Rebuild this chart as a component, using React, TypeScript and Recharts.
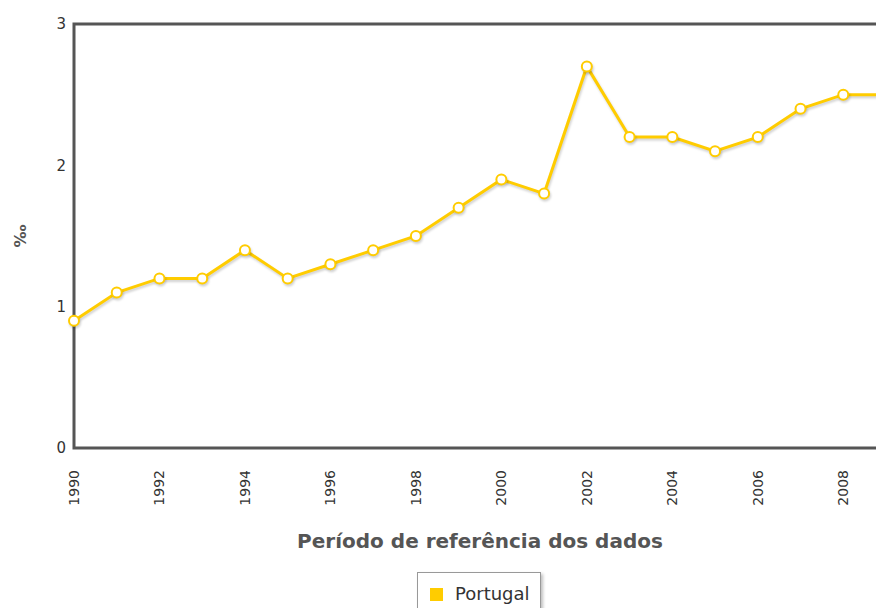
import React from "react";
import {
  LineChart,
  Line,
  XAxis,
  YAxis,
  Legend,
  ReferenceArea,
  Label,
} from "recharts";

const years = [
  "1990", "1991", "1992", "1993", "1994", "1995", "1996", "1997", "1998", "1999",
  "2000", "2001", "2002", "2003", "2004", "2005", "2006", "2007", "2008", "2009",
];
const portugal = [
  0.9, 1.1, 1.2, 1.2, 1.4, 1.2, 1.3, 1.4, 1.5, 1.7,
  1.9, 1.8, 2.7, 2.2, 2.2, 2.1, 2.2, 2.4, 2.5, 2.5,
];
const yTicks = [0, 1, 2, 3];

const data = years.map((year, i) => ({ year, Portugal: portugal[i] }));

const FONT = "'DejaVu Sans', Verdana, sans-serif";

function YearTick(props: any) {
  const { x, y, payload } = props;
  return (
    <text
      transform={`translate(${x + 5},${y + 14}) rotate(-90)`}
      textAnchor="end"
      fontSize={14}
      fontFamily={FONT}
      fill="#333"
    >
      {payload.value}
    </text>
  );
}

function LegendBox() {
  return (
    <div
      style={{
        border: "1px solid #999",
        boxShadow: "2px 2px 3px rgba(0,0,0,0.25)",
        background: "#fff",
        padding: "11px 10px 14px 12px",
        display: "flex",
        alignItems: "center",
        fontFamily: FONT,
        fontSize: 18,
        lineHeight: "20px",
        color: "#333",
      }}
    >
      <span
        style={{
          display: "inline-block",
          width: 13,
          height: 13,
          background: "#FFCC00",
          marginRight: 12,
        }}
      />
      Portugal
    </div>
  );
}

export default function App() {
  return (
    <div
      style={{
        position: "fixed",
        left: 0,
        top: 0,
        width: 876,
        height: 608,
        overflow: "hidden",
        background: "#fff",
      }}
    >
      <LineChart
        width={960}
        height={608}
        data={data}
        margin={{ top: 24, right: 74, bottom: 50, left: 0 }}
      >
        <ReferenceArea
          x1="1990"
          x2="2009"
          y1={0}
          y2={3}
          fill="none"
          stroke="#555"
          strokeWidth={3}
        />
        <XAxis
          dataKey="year"
          interval={1}
          height={110}
          axisLine={false}
          tickLine={false}
          padding={{ left: 0, right: 0 }}
          tick={<YearTick />}
        >
          <Label
            value="Período de referência dos dados"
            position="insideBottom"
            offset={10}
            style={{
              fontSize: 20,
              fontWeight: "bold",
              fontFamily: FONT,
              fill: "#555",
            }}
          />
        </XAxis>
        <YAxis
          width={74}
          domain={[0, 3]}
          ticks={yTicks}
          axisLine={false}
          tickLine={false}
          tick={{ fontSize: 15, fontFamily: FONT, fill: "#333" }}
        >
          <Label
            content={({ viewBox }: any) => (
              <text
                transform={`translate(${viewBox.x + 26},${viewBox.y + viewBox.height / 2}) rotate(-90)`}
                textAnchor="middle"
                fontSize={16}
                fontWeight="bold"
                fontFamily={FONT}
                fill="#555"
              >
                ‰
              </text>
            )}
          />
        </YAxis>
        <Legend
          verticalAlign="middle"
          content={<LegendBox />}
          wrapperStyle={{ left: 417, top: 572, width: "auto" }}
        />
        <Line
          type="linear"
          dataKey="Portugal"
          stroke="#FFCC00"
          strokeWidth={3}
          dot={{ r: 5, fill: "#fff", stroke: "#FFCC00", strokeWidth: 2 }}
          activeDot={false}
          style={{ filter: "drop-shadow(1px 2px 1px rgba(0,0,0,0.18))" }}
          isAnimationActive={false}
        />
      </LineChart>
    </div>
  );
}
